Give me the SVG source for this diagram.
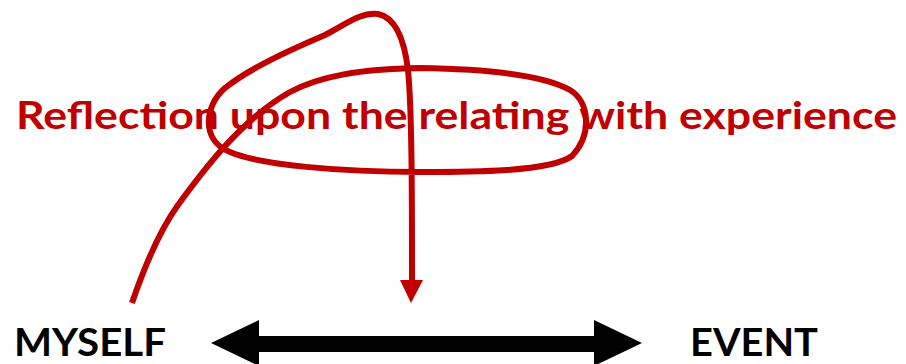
<svg xmlns="http://www.w3.org/2000/svg" width="906" height="364" viewBox="0 0 906 364">
<style>
.red{fill:#C00000}
.lbl{font-family:Lato,"Liberation Sans",sans-serif;font-weight:bold}
.stroke{fill:none;stroke:#C00000;stroke-width:6;stroke-linecap:butt;stroke-linejoin:round}
</style>
<rect width="906" height="364" fill="#fff"/>
<g id="title">
<text class="lbl red" x="16" y="129" font-size="38" textLength="881" lengthAdjust="spacingAndGlyphs">Reflection upon the relating with experience</text>
</g>
<g id="myself">
<text class="lbl" x="14" y="356" font-size="39" fill="#000" textLength="152" lengthAdjust="spacingAndGlyphs">MYSELF</text>
</g>
<g id="event">
<text class="lbl" x="690" y="356" font-size="39" fill="#000" textLength="128" lengthAdjust="spacingAndGlyphs">EVENT</text>
</g>
<g id="connectors">
<polygon points="211,343 259,320 259,336 594,336 594,320 642,343 594,366 594,352 259,352 259,366" fill="#000"/>
<path class="stroke" d="M132,303 C145,265 160,230 178,205 C200,175 240,120 290,92 C320,76 360,69 420,68 C490,69 545,76 570,90 C590,102 592,135 572,156 C550,172 470,172 420,172 C340,172 260,165 230,152 C200,140 205,105 225,88 C250,68 290,50 325,35 C345,25 360,12 378,14 C398,18 405,45 408,70 C412,110 412,200 412,282"/>
<polygon class="red" points="400,280 423,280 411,303"/>
</g>
</svg>
